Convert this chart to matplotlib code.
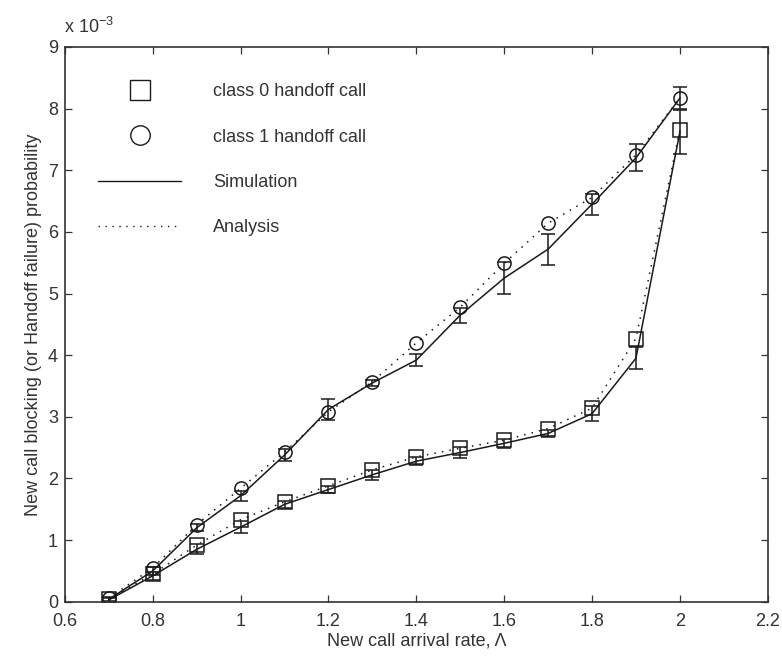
"""
blocking_plot.py
----------------
New call blocking / handoff failure probability vs. new call arrival rate,
simulation (solid + error bars) against analysis (dotted + markers).
"""

import matplotlib
matplotlib.use("Agg")
import matplotlib.pyplot as plt
from matplotlib.lines import Line2D

plt.rcParams["font.family"] = ["Liberation Sans", "DejaVu Sans"]
plt.rcParams["mathtext.fontset"] = "custom"
plt.rcParams["mathtext.rm"] = "Liberation Sans"

# ---------------------------------------------------------------------------
# Data (probabilities in units of 1e-3)
# ---------------------------------------------------------------------------
arrival_rate = [0.7, 0.8, 0.9, 1.0, 1.1, 1.2, 1.3, 1.4, 1.5, 1.6, 1.7, 1.8, 1.9, 2.0]

class0_analysis = [0.04, 0.45, 0.92, 1.33, 1.62, 1.88, 2.14, 2.35, 2.49, 2.62, 2.81, 3.14, 4.27, 7.65]
class0_sim = [0.03, 0.42, 0.85, 1.21, 1.58, 1.82, 2.06, 2.28, 2.42, 2.57, 2.73, 3.05, 3.95, 7.62]
class0_err = [0.03, 0.06, 0.08, 0.10, 0.06, 0.06, 0.08, 0.07, 0.09, 0.07, 0.06, 0.12, 0.18, 0.35]

class1_analysis = [0.06, 0.55, 1.25, 1.84, 2.43, 3.08, 3.57, 4.20, 4.78, 5.49, 6.14, 6.56, 7.25, 8.17]
class1_sim = [0.04, 0.50, 1.20, 1.72, 2.38, 3.12, 3.55, 3.92, 4.65, 5.25, 5.72, 6.45, 7.20, 8.17]
class1_err = [0.03, 0.06, 0.06, 0.08, 0.10, 0.17, 0.05, 0.10, 0.12, 0.26, 0.25, 0.17, 0.22, 0.18]

INK = "#1a1a1a"
DOTS = (0, (1, 4))

# ---------------------------------------------------------------------------
# Figure
# ---------------------------------------------------------------------------
fig = plt.figure(figsize=(7.82, 6.61), dpi=100)
ax = fig.add_axes([0.0831, 0.0897, 0.8986, 0.8392])

for sim, err in [(class0_sim, class0_err), (class1_sim, class1_err)]:
    ax.errorbar(arrival_rate, sim, yerr=err, fmt="-", color=INK, lw=1.1,
                elinewidth=1.1, capsize=5, capthick=1.1)

ax.plot(arrival_rate, class0_analysis, linestyle=DOTS, color=INK, lw=1.1,
        marker="s", ms=9.5, mfc="none", mec=INK, mew=1.1)
ax.plot(arrival_rate, class1_analysis, linestyle=DOTS, color=INK, lw=1.1,
        marker="o", ms=9.5, mfc="none", mec=INK, mew=1.1)

ax.set_xlim(0.6, 2.2)
ax.set_ylim(0, 9)
ax.set_xticks([0.6, 0.8, 1.0, 1.2, 1.4, 1.6, 1.8, 2.0, 2.2])
ax.set_xticklabels(["0.6", "0.8", "1", "1.2", "1.4", "1.6", "1.8", "2", "2.2"])
ax.set_yticks(range(10))
ax.tick_params(direction="in", length=5, width=0.9, top=True, right=True,
               labelsize=13, colors="#333333", pad=5)
ax.tick_params(axis="x", pad=8)
for side in ax.spines.values():
    side.set_linewidth(1.2)
    side.set_color("#333333")

ax.set_xlabel("New call arrival rate, Λ", fontsize=13, color="#333333", labelpad=2)
ax.set_ylabel("New call blocking (or Handoff failure) probability", fontsize=13,
              color="#333333", labelpad=4)
ax.text(-0.002, 1.018, r"x 10$^{-3}$", transform=ax.transAxes, fontsize=13,
        color="#333333", ha="left", va="bottom")

# legend without a frame, markers shown large
handles = [
    Line2D([], [], linestyle="none", marker="s", ms=14, mfc="none", mec=INK, mew=1.0),
    Line2D([], [], linestyle="none", marker="o", ms=14, mfc="none", mec=INK, mew=1.0),
    Line2D([], [], linestyle="-", color=INK, lw=1.0),
    Line2D([], [], linestyle=DOTS, color=INK, lw=1.0),
]
labels = ["class 0 handoff call", "class 1 handoff call", "Simulation", "Analysis"]
ax.legend(handles, labels, loc="upper left", bbox_to_anchor=(0.024, 0.964),
          frameon=False, fontsize=13, handlelength=4.6, handletextpad=1.75,
          labelspacing=1.57, labelcolor="#333333")

fig.savefig("out.png", dpi=100)
